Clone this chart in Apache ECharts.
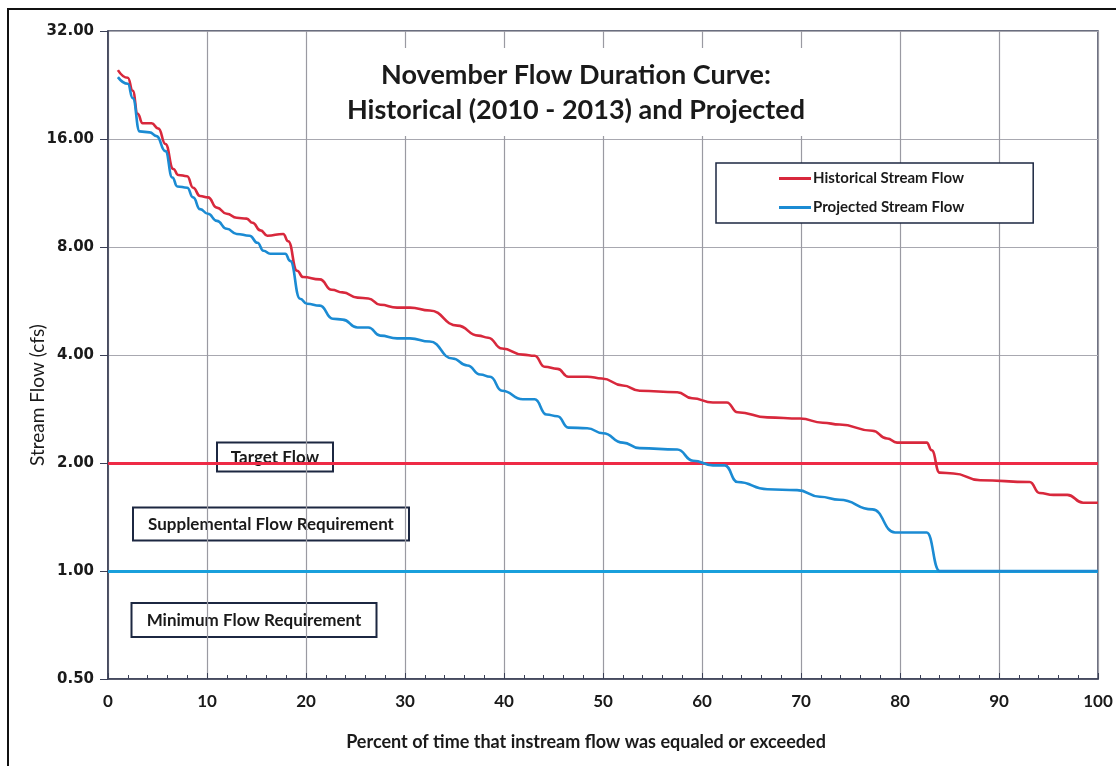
<!DOCTYPE html>
<html>
<head>
<meta charset="utf-8">
<script src="https://cdn.jsdelivr.net/npm/echarts@6/dist/echarts.min.js"></script>
<style>
html,body{margin:0;padding:0;background:#fff;}
#chart{width:1116px;height:766px;}
</style>
</head>
<body>
<div id="chart"></div>
<script>
// ---- Data ----
const titleLines = ['November Flow Duration Curve:', 'Historical (2010 - 2013) and Projected'];
const seriesNames = ['Historical Stream Flow', 'Projected Stream Flow'];

const histX = [1.0,2.0,2.5,3.0,3.5,4.4,5.1,5.8,6.6,7.1,8.0,8.6,9.3,10.1,11.0,12.0,13.0,14.0,14.6,15.4,16.1,17.7,18.2,19.1,19.7,21.4,22.6,23.7,25.2,26.3,27.5,29.2,30.5,32.5,35.3,37.4,38.4,39.8,41.9,43.1,44.1,45.4,46.5,48.4,49.9,52.0,53.7,57.5,59.0,61.1,62.5,63.6,66.6,69.9,72.2,73.9,77.2,78.7,79.7,82.7,83.2,84.0,85.4,88.1,93.1,94.1,95.5,96.9,98.5,100];
const histY = [24.9,23.7,21.8,18.8,17.7,17.7,17.1,15.5,13.2,12.7,12.6,11.7,11.1,11.0,10.3,9.9,9.65,9.6,9.35,8.9,8.6,8.7,8.3,6.87,6.6,6.5,6.08,5.98,5.78,5.75,5.52,5.42,5.42,5.32,4.83,4.53,4.47,4.17,4.01,3.98,3.71,3.66,3.48,3.48,3.44,3.29,3.18,3.15,3.03,2.95,2.95,2.77,2.68,2.66,2.59,2.56,2.46,2.34,2.28,2.28,2.17,1.88,1.87,1.79,1.77,1.65,1.63,1.63,1.55,1.55];

const projX = [1.0,2.0,2.5,3.2,4.2,4.9,5.8,6.5,7.0,8.0,8.6,9.3,10.1,11.0,12.0,13.0,14.3,15.1,15.7,16.4,17.9,18.4,19.4,20.1,21.4,22.7,23.7,25.2,26.3,27.5,29.2,30.5,32.5,34.8,36.3,37.6,38.6,39.8,41.9,43.1,44.3,45.4,46.5,48.4,50.0,52.0,53.7,57.5,59.1,61.1,62.3,63.6,66.6,69.6,71.9,73.9,77.2,79.5,82.7,84.0,100];
const projY = [23.8,22.8,20.8,16.8,16.7,16.3,14.8,12.5,11.8,11.7,11.0,10.2,9.9,9.46,8.99,8.7,8.6,8.22,7.81,7.66,7.66,7.32,5.74,5.56,5.49,5.05,5.02,4.77,4.77,4.53,4.45,4.45,4.36,3.91,3.74,3.53,3.48,3.18,3.01,3.01,2.73,2.70,2.51,2.50,2.42,2.28,2.20,2.18,2.03,1.97,1.97,1.77,1.69,1.68,1.61,1.58,1.485,1.28,1.28,1.0,1.0];

const targetFlow = 2.0;
const minimumFlow = 1.0;
const annotations = ['Target Flow', 'Supplemental Flow Requirement', 'Minimum Flow Requirement'];
const xAxisTitle = 'Percent of time that instream flow was equaled or exceeded';
const yAxisTitle = 'Stream Flow (cfs)';

// ---- Chart ----
const chart = echarts.init(document.getElementById('chart'), null, {renderer: 'canvas'});
const zip = (xs, ys) => xs.map((x, i) => [x, ys[i]]);
const RED = '#d8283c', TRED = '#ee2a46', BLUE = '#1b8bd3', TBLUE = '#19a0dc';
const NAVY = '#1c2741';

function box(cx, cy, w, h, text) {
  return {
    type: 'group', z: 100,
    children: [
      {type: 'rect', shape: {x: cx - w / 2, y: cy - h / 2, width: w, height: h},
       style: {fill: '#fff', stroke: NAVY, lineWidth: 2}},
      {type: 'text', x: cx, y: cy + 1,
       style: {text: text, fill: '#1a1a1a', font: 'bold 17px Lato', align: 'center', verticalAlign: 'middle',
               textAlign: 'center', textVerticalAlign: 'middle'}}
    ]
  };
}

chart.setOption({
  animation: false,
  backgroundColor: '#fff',
  title: {
    text: titleLines.join('\n'),
    left: 562, top: 48, textAlign: 'center',
    backgroundColor: '#fff',
    padding: [10, 14, 8, 14],
    textStyle: {fontFamily: 'Lato', fontWeight: 'bold', fontSize: 27, lineHeight: 35, color: '#1a1a1a'}
  },
  legend: {
    orient: 'vertical',
    left: 716, top: 163,
    padding: [7, 69, 7, 63],
    itemGap: 12,
    itemWidth: 32, itemHeight: 3,
    icon: 'rect',
    borderColor: NAVY, borderWidth: 1.5,
    backgroundColor: '#fff',
    textStyle: {fontFamily: 'Lato', fontWeight: 'bold', fontSize: 15, lineHeight: 17, color: '#1a1a1a', padding: [0, 0, 0, -3]},
    data: seriesNames
  },
  grid: {left: 108, right: 18, top: 31, bottom: 87, show: true, borderColor: '#3a3f55', borderWidth: 1.5},
  xAxis: {
    type: 'value', min: 0, max: 100, interval: 10,
    axisLine: {show: true, lineStyle: {color: '#3a3f55', width: 1.5}},
    axisTick: {show: true, inside: true, length: 6, lineStyle: {color: '#3a3f55'}},
    minorTick: {show: true, splitNumber: 5, length: 4, lineStyle: {color: '#3a3f55'}},
    splitLine: {show: true, lineStyle: {color: '#9a9aa2', width: 1.2}},
    axisLabel: {fontFamily: 'Lato', fontWeight: 'bold', fontSize: 17, color: '#1a1a1a', margin: 14},
    name: xAxisTitle, nameLocation: 'middle', nameGap: 54,
    nameTextStyle: {fontFamily: 'Lato', fontWeight: 'bold', fontSize: 18, color: '#1a1a1a', padding: [0, 34, 0, 0]}
  },
  yAxis: {
    type: 'log', logBase: 2, min: 0.5, max: 32, interval: 1,
    axisLine: {show: true, lineStyle: {color: '#3a3f55', width: 1.5}},
    axisTick: {show: true, length: 8, lineStyle: {color: '#3a3f55'}},
    splitLine: {show: true, lineStyle: {color: '#a8a8b0', width: 1.2}},
    axisLabel: {fontFamily: 'DejaVu Sans', fontWeight: 'bold', fontSize: 15, color: '#1a1a1a', margin: 14,
      formatter: v => Number(v).toFixed(2)}
  },
  series: [
    {
      name: seriesNames[0], type: 'line', data: zip(histX, histY),
      smooth: 0.5, smoothMonotone: 'x', symbol: 'none',
      lineStyle: {color: RED, width: 2.6}, itemStyle: {color: RED}, z: 5,
      markLine: {silent: true, symbol: 'none', label: {show: false},
        lineStyle: {color: TRED, width: 3, type: 'solid'}, data: [{yAxis: targetFlow}]}
    },
    {
      name: seriesNames[1], type: 'line', data: zip(projX, projY),
      smooth: 0.5, smoothMonotone: 'x', symbol: 'none',
      lineStyle: {color: BLUE, width: 2.6}, itemStyle: {color: BLUE}, z: 5,
      markLine: {silent: true, symbol: 'none', label: {show: false},
        lineStyle: {color: TBLUE, width: 3, type: 'solid'}, data: [{yAxis: minimumFlow}]}
    }
  ],
  graphic: [
    {type: 'rect', shape: {x: 8, y: 9, width: 1200, height: 900}, style: {fill: 'none', stroke: '#111', lineWidth: 2}, z: 0, silent: true},
    box(275, 457, 116, 29, annotations[0]),
    box(271, 524, 276, 33, annotations[1]),
    box(254, 620, 245, 34, annotations[2]),
    {type: 'text', x: 38, y: 395, rotation: Math.PI / 2,
     style: {text: yAxisTitle, fill: '#1a1a1a', font: '19px Lato', align: 'center', verticalAlign: 'middle',
             textAlign: 'center', textVerticalAlign: 'middle'}}
  ]
});
</script>
</body>
</html>
